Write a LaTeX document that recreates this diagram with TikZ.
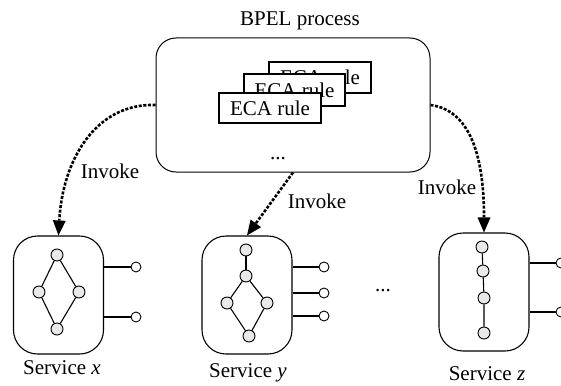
\documentclass[tikz,border=0pt]{standalone}
\usepackage{fontspec}
\setmainfont{Liberation Serif}
\usetikzlibrary{arrows.meta}
\begin{document}
\begin{tikzpicture}[x=1pt,y=1pt,
  lbl/.style={font=\fontsize{21}{24}\selectfont, inner sep=0pt, anchor=base},
  svc/.style={draw, line width=1.1pt, rounded corners=24pt, minimum width=90pt, minimum height=118pt, inner sep=0pt},
  act/.style={circle, draw, line width=0.9pt, fill=gray!18, minimum size=12pt, inner sep=0pt},
  port/.style={circle, draw, line width=0.9pt, fill=white, minimum size=10pt, inner sep=0pt},
  eca/.style={draw, line width=1.4pt, fill=white, minimum width=102pt, minimum height=31pt, inner sep=0pt, font=\fontsize{21}{24}\selectfont},
  inv/.style={line width=2.6pt, dash pattern=on 3pt off 1.6pt, -{Triangle[length=15pt,width=13pt,line width=0pt]}},
  lnk/.style={line width=1.1pt}
]
\useasboundingbox[fill=white] (0,0) rectangle (561,-385);

% BPEL process
\node[draw, line width=1pt, rounded corners=20pt, minimum width=274pt, minimum height=134pt] (bpel) at (293,-105) {};
\node[lbl] (title) at (300,-26) {BPEL process};
\node[eca] (e3) at (320,-77.5) {ECA rule};
\node[eca, minimum width=101pt, minimum height=32pt] (e2) at (294.5,-90) {ECA rule};
\node[eca, minimum height=30pt] (e1) at (270,-108) {ECA rule};
\node[lbl] (bdots) at (278,-159) {...};

% Service x
\node[svc] (sx) at (58.5,-295) {};
\node[act] (x1) at (57,-255) {};
\node[act] (x2) at (39,-292) {};
\node[act] (x3) at (79,-292) {};
\node[act] (x4) at (57,-329) {};
\draw[lnk] (x1) -- (x2) -- (x4) -- (x3) -- (x1);
\node[port] (xp1) at (136,-267) {};
\node[port] (xp2) at (136,-317) {};
\draw[lnk] (xp1.west) -- (xp1.west -| sx.east);
\draw[lnk] (xp2.west) -- (xp2.west -| sx.east);
\node[lbl] (lx) at (62,-374) {Service \textit{x}};

% Service y
\node[svc] (sy) at (247,-295) {};
\node[act] (y1) at (246,-250) {};
\node[act] (y2) at (246,-276) {};
\node[act] (y3) at (227,-303) {};
\node[act] (y4) at (267,-303) {};
\node[act] (y5) at (249,-336) {};
\draw[lnk] (y1) -- (y2);
\draw[lnk] (y2) -- (y3) -- (y5) -- (y4) -- (y2);
\node[port] (yp1) at (324,-267) {};
\node[port] (yp2) at (324,-293) {};
\node[port] (yp3) at (324,-316) {};
\draw[lnk] (yp1.west) -- (yp1.west -| sy.east);
\draw[lnk] (yp2.west) -- (yp2.west -| sy.east);
\draw[lnk] (yp3.west) -- (yp3.west -| sy.east);
\node[lbl] (ly) at (248,-377) {Service \textit{y}};

\node[lbl] (mdots) at (383,-291) {...};

% Service z
\node[svc] (sz) at (484,-292) {};
\node[act] (z1) at (482,-247) {};
\node[act] (z2) at (483,-271) {};
\node[act] (z3) at (484,-298) {};
\node[act] (z4) at (484,-333) {};
\draw[lnk] (z1) -- (z2) -- (z3) -- (z4);
\node[port] (zp1) at (561,-263) {};
\node[port] (zp2) at (561,-312) {};
\draw[lnk] (zp1.west) -- (zp1.west -| sz.east);
\draw[lnk] (zp2.west) -- (zp2.west -| sz.east);
\node[lbl] (lz) at (487,-380) {Service \textit{z}};

% Invoke arrows
\draw[inv] (bpel.west) .. controls +(-60,2) and +(4,75) .. (sx.north);
\draw[inv] (bpel.south) -- (sy.north);
\draw[inv] (bpel.east) .. controls +(38,-5) and +(0,80) .. (sz.north);
\node[lbl] (i1) at (110,-178) {Invoke};
\node[lbl] (i2) at (317,-208) {Invoke};
\node[lbl] (i3) at (447,-194) {Invoke};
\end{tikzpicture}
\end{document}
